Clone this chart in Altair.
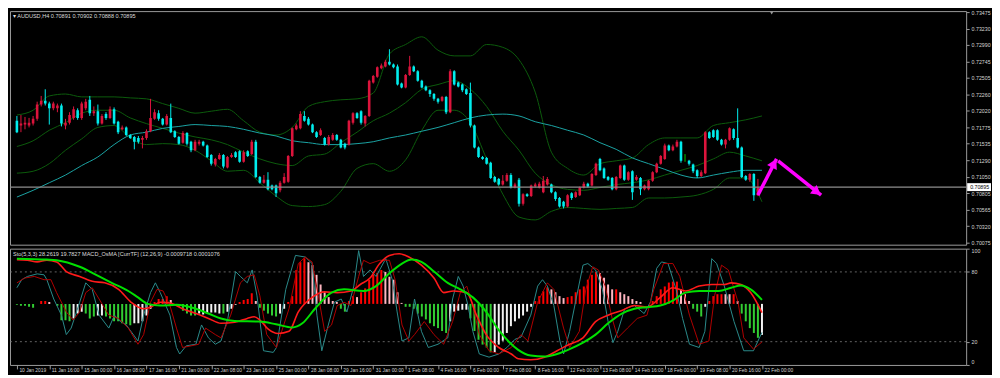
import json
import altair as alt
import pandas as pd

# ---------------- candle data (price points x 1e-5) ----------------
open_pts = [71873,71803,71817,71803,71831,71901,72112,72168,72126,72056,
72056,72098,71803,71845,71915,72028,71915,72056,72182,71985,
72014,71831,71971,71915,72042,71859,71747,71775,71663,71635,
71620,71592,71620,71719,71901,71985,71901,71817,71915,71719,
71635,71550,71691,71564,71438,71536,71564,71508,71368,71227,
71311,71368,71185,71340,71410,71424,71269,71424,71382,71564,
71044,70960,71002,70918,70918,70848,70960,70974,71354,71747,
71761,71944,71901,71817,71705,71663,71620,71522,71592,71663,
71592,71536,71522,71845,71985,72014,71831,71944,72435,72520,
72646,72674,72744,72702,72674,72421,72365,72548,72674,72604,
72463,72379,72323,72267,72196,72168,72225,71999,72604,72435,
72407,72337,72281,71803,71480,71340,71326,71255,71044,71016,
70932,70988,71073,70890,71002,70651,70791,70763,70904,70890,
70819,70932,70932,70819,70735,70679,70609,70805,70749,70777,
70890,70946,70918,71073,71311,71171,71044,71030,70862,71030,
71213,71002,71129,71002,71030,70862,70862,70988,71115,71241,
71311,71508,71438,71494,71564,71297,71283,71227,71143,71059,
71101,71705,71733,71733,71592,71522,71592,71747,71620,71480,
71059,71002,71087,70777,70891]

high_pts = [71944,71957,71929,71915,71944,72154,72239,72337,72154,72154,
72126,72126,71901,71999,72084,72056,72154,72196,72239,72084,
72112,71971,71999,72084,72070,71873,71803,71789,71677,71649,
71649,71649,71747,72196,72042,72028,71915,71971,72126,71733,
71649,71719,71705,71578,71592,71592,71578,71522,71382,71326,
71396,71382,71354,71396,71424,71438,71438,71438,71592,71592,
71059,71073,71115,70932,70932,70988,71101,71368,71775,71831,
72014,72014,71929,71831,71719,71761,71635,71663,71691,71677,
71606,71550,71887,71999,71999,72028,71957,72477,72548,72674,
72716,72772,72927,72716,72702,72435,72562,72829,72688,72618,
72477,72393,72337,72281,72210,72239,72239,72632,72618,72449,
72421,72351,72435,71817,71494,71354,71340,71269,71059,71030,
71073,71101,71101,70960,71030,70805,70805,70932,70960,70974,
71059,71044,70946,70833,70749,70693,70791,70819,70833,70904,
70974,70960,71101,71255,71326,71185,71059,71044,71059,71227,
71227,71129,71143,71073,71044,70932,71002,71129,71255,71368,
71536,71522,71522,71592,71578,71382,71297,71241,71157,71143,
71719,71719,71747,71747,71606,71606,71775,71761,72056,71494,
71073,71101,71101,71016,70902]

low_pts = [71691,71705,71747,71775,71803,71873,72084,72098,71817,72028,
71999,71789,71747,71817,71887,71887,71887,72028,71944,71944,
71803,71817,71887,71901,71817,71677,71733,71649,71606,71452,
71536,71466,71592,71705,71887,71873,71803,71803,71691,71620,
71522,71536,71508,71410,71424,71508,71494,71326,71213,71199,
71297,71171,71171,71326,71326,71255,71255,71340,71368,71030,
70946,70946,70848,70848,70749,70819,70946,70960,71340,71733,
71747,71859,71803,71691,71620,71649,71508,71508,71578,71578,
71466,71452,71508,71817,71901,71817,71789,71929,72421,72506,
72632,72660,72688,72646,72393,72351,72351,72534,72590,72449,
72351,72309,72225,72168,72126,72154,71971,71985,72393,72365,
72295,72253,71775,71466,71326,71297,71227,71016,70960,70918,
70918,70974,70876,70876,70609,70623,70749,70749,70890,70876,
70805,70918,70805,70693,70595,70581,70595,70707,70735,70763,
70876,70890,70904,71059,71129,71016,70988,70848,70848,71016,
70988,70988,70707,70988,70777,70848,70848,70974,71101,71227,
71297,71424,71424,71480,71255,71269,71213,71101,71030,71044,
71087,71606,71620,71578,71508,71466,71578,71592,71466,71030,
70988,70974,70693,70763,70888]

close_pts = [71705,71831,71845,71845,71901,72112,72168,72126,72056,72126,
72098,71831,71845,71957,72042,71915,72126,72154,71985,72014,
71831,71944,71915,72042,71831,71705,71775,71663,71620,71564,
71564,71620,71719,71915,71999,71901,71817,71944,71705,71635,
71536,71691,71536,71438,71564,71564,71508,71340,71241,71311,
71368,71199,71340,71368,71340,71269,71410,71354,71564,71044,
70960,71002,70862,70862,70805,70960,71044,71354,71761,71803,
71971,71873,71817,71705,71635,71733,71522,71635,71663,71592,
71480,71480,71873,71985,71915,71845,71944,72463,72534,72660,
72688,72744,72702,72660,72407,72365,72548,72674,72604,72463,
72365,72323,72267,72196,72154,72225,71999,72604,72407,72379,
72323,72267,71803,71480,71340,71311,71241,71030,70974,70932,
70988,71073,70890,70932,70651,70791,70763,70918,70932,70946,
70988,71016,70819,70721,70609,70609,70777,70735,70819,70890,
70946,70904,71087,71241,71143,71030,71002,70862,71044,71213,
71002,71115,70819,71044,70862,70918,70988,71115,71241,71354,
71508,71438,71494,71564,71283,71297,71241,71129,71059,71115,
71705,71620,71635,71592,71522,71592,71761,71620,71480,71044,
71002,71087,70777,70891,70895]

# ---------------- Bollinger bands / moving average (every 4 bars) ----------------
band_idx = list(range(0, 185, 4))
bb_upper = [71958,72028,72239,72267,72225,72225,72225,72210,72196,72126,
72056,71985,72014,72042,71873,71705,71663,71775,72084,72154,
72182,72196,72281,72857,72997,73110,72913,72829,72829,72997,
72955,72772,72295,71410,71171,71073,71241,71283,71325,71522,
71620,71620,71620,71803,71845,71887,71944]
bb_middle = [71494,71578,71733,71845,71985,72028,72028,71915,71831,71761,
71691,71635,71592,71522,71410,71311,71241,71213,71354,71382,
71550,71705,71873,71985,72140,72337,72407,72463,72337,72084,
71719,71438,71101,70932,70862,70848,70890,70932,70960,71002,
71073,71143,71213,71311,71410,71354,71283]
bb_lower = [71101,71129,71241,71438,71606,71775,71803,71620,71522,71536,
71522,71438,71283,71129,71143,70960,70763,70623,70609,70637,
70834,71171,71241,71129,71297,71733,72028,72028,71845,71311,
70791,70454,70412,70538,70595,70581,70567,70581,70595,70735,
70735,70749,70777,70862,71030,71030,70679]
ma_line = [70749,70848,70960,71073,71213,71340,71522,71663,71705,71761,
71789,71817,71803,71789,71747,71691,71649,71578,71550,71522,
71522,71536,71564,71620,71663,71719,71775,71845,71915,71957,
71971,71944,71859,71803,71733,71663,71550,71452,71325,71241,
71157,71073,71030,71073,71115,71143,71143]

# ---------------- OsMA histogram (x 1e-5) and colour class ----------------
osma = [-1,-2,-2,-3,-4,0,3,3,2,0,
-2,-17,-17,-18,-15,-10,-8,-10,-15,-13,
-12,-12,-13,-15,-18,-18,-20,-21,-22,-20,
-20,-18,-12,-5,2,5,5,8,4,0,
-3,-7,-10,-12,-12,-10,-11,-10,-9,-9,
-10,-10,-8,-5,-1,2,4,5,11,3,
-4,-7,-10,-12,-13,-10,-5,2,8,35,
43,47,43,40,30,20,12,7,3,2,
-5,-8,3,8,7,12,16,25,30,32,
35,33,28,25,12,1,-3,-3,-5,-10,
-13,-16,-20,-23,-25,-28,-30,-18,-8,-7,
-6,-6,-15,-28,-37,-42,-45,-50,-50,-42,
-38,-30,-23,-18,-15,-12,-8,-3,3,8,
13,17,15,12,8,6,7,8,12,15,
18,25,30,33,32,27,20,15,15,12,
10,8,5,3,2,0,0,3,8,15,
18,22,23,23,15,10,3,-5,-8,-13,
-3,3,8,10,10,10,10,10,3,-10,
-18,-25,-30,-35,-32]
hcol = ['g','g','g','g','g','w','r','r','p','w',
'g','g','g','g','w','w','w','g','g','g',
'w','w','g','g','g','g','g','g','g','w',
'w','w','w','w','r','r','r','r','p','w',
'g','g','g','g','g','w','w','w','w','w',
'w','g','w','w','w','r','r','r','r','p',
'g','g','g','g','g','w','w','r','r','r',
'r','r','p','p','p','p','p','p','p','p',
'g','g','r','r','p','r','r','r','r','r',
'r','p','p','p','p','p','g','g','g','g',
'g','g','g','g','g','g','g','w','w','w',
'w','w','g','g','g','g','g','g','w','w',
'w','w','w','w','w','w','w','w','r','r',
'r','r','p','p','p','p','r','r','r','r',
'r','r','r','r','p','p','p','p','r','p',
'p','p','p','p','p','g','g','r','r','r',
'r','r','r','r','p','p','p','g','g','g',
'w','r','r','r','r','p','p','r','p','g',
'g','g','g','g','w']

# ---------------- oscillator lines (bar index, 0-100 panel value) ----------------
macd_idx = [0,2.6,5,7.4,9.8,12.2,15.5,18.6,21.7,25.1,28.2,31.3,33,35.4,37.8,40.9,44.2,47.3,50.4,53.8,
56.9,58.6,60,62,64.5,67.2,69.5,72.9,76,79.1,82.5,84.8,87.2,89.6,92,94.4,96.8,99.9,103,105.4,
107.8,111.1,113.5,115.9,119,122.1,123.8,126.9,130.3,133.4,136.5,139.8,142.9,146,149.4,152.5,155.6,158.9,162,165.1,
168.5,171.6,174.7,176.4,178.8,181.2,184]
macd_val = [90.6,90,88.6,90,88.6,80.3,76.1,71.9,70.6,65,53.9,48.3,49.7,53.9,53.3,48.3,44.2,40,35.8,36.7,
40,41.4,38.6,31,27,28.9,45.6,58.1,62.8,62.2,63.6,69.2,74.7,87.2,94.2,95.6,92.8,85.8,74.7,62.2,
63.6,62.2,42.8,26.1,15,9.4,5.3,4.4,6.7,12.2,17.8,23.3,37.3,42.8,46.9,51.1,49.7,58.1,66.4,63.6,
67.8,69.2,69.2,70.6,69.2,62.2,45]
sig_idx = [0,7.4,9.8,15.5,20.3,23.4,27.5,29.9,32.3,35.4,39.4,44.2,47.3,50.4,53.8,60,64,68,70.5,73.6,
77.7,80.8,85.6,88.7,92,95.1,97.5,99.9,103,106.4,109.5,112.6,115.9,119,121.5,123.8,126.9,130.3,133.4,136.5,
139.8,142.9,146,149.4,152.5,155.6,158.9,162,165.1,168.5,173.3,176.4,178.8,181.2,184]
sig_val = [91.4,90.6,90,84.4,76.1,70.6,63.6,58.1,52.5,51.1,51.7,48.3,44.2,40,37.8,37.3,35,32.2,35.8,48.3,
62.2,65,63.6,67.8,78.9,87.2,90.6,88.6,80.3,70.6,65,58.1,45.6,30,20,13,8.1,7.2,9.4,13.6,
19.2,26.1,35.8,44.2,48.3,49.7,51.1,55.3,62.2,63.6,63.6,66.4,68.3,65,56]
stk_idx = [0,1.2,2.6,5,6.7,7.4,9.1,11,12.2,13.4,15.5,17,18.6,20.3,22.7,24.1,25.1,27,29.9,31.3,
33,34.2,35.4,37.8,39.4,40.2,41.8,44.2,45.6,47.3,49,50.4,52.1,54,55.2,56.9,58.1,59.3,60.9,63.3,
64.1,66.4,68.8,71.2,72.9,74.1,75.3,76.7,78.4,80.1,81.5,83.2,84.4,85.6,87.2,88.7,91.1,92.7,93.9,95.1,
96.8,98.2,99.9,101.6,104,106.4,107.6,109,110.2,111.4,112.6,114.2,116.6,119,121,123,124.5,126.9,128.6,129.8,
131,132.6,134.1,135,136.5,138.1,139.8,141,142.9,144.6,146,147.2,148.4,150.1,152.5,154.9,156.5,158,159.2,160.8,
162.8,164.4,166.1,168.5,169.9,171.6,172.8,174.7,177.1,179.5,181.9,184]
stk_val = [66.4,73.3,76.1,78.3,77.5,73.3,56.7,42.8,26.1,31.7,53.9,70.6,65,42.8,31.7,42.8,38.6,34.4,20.6,42.8,
62.2,70.6,62.2,42.8,15,9.4,16.4,17.8,34.4,23.3,17.8,20.6,40,80.3,76.1,70.6,81.7,59.4,12.2,10.8,
15,65,94.2,92.8,87.2,42.8,12.2,31.7,53.9,56.7,45.6,67.8,98.3,76.1,81.7,76.1,91.4,73.3,45.6,20.6,
23.3,56.7,28.9,15,17.8,23.3,56.7,76.1,67.8,51.1,28.9,9.4,6.7,9.4,15,22,24,42.8,67.8,73.3,
67.8,51.1,20.6,9.4,28.9,56.7,85.8,87.2,81.7,65,37.3,19.2,28.9,48.3,51.1,44.2,54.4,83.1,88.6,87.2,
65,40,17.8,15,28.9,91.4,87.2,67.8,37.3,12.2,12.2,28]
ssig_idx = [0,1.9,4.3,6.7,8.4,9.8,12.2,13.9,15.5,17,18.6,20.3,22.7,25.1,27.5,29.9,31.3,33,34.6,36.1,
37.8,39.4,40.9,43,44.9,46.6,49,50.4,52.8,55.2,56.9,58.6,60,61.7,64.1,67.2,69.5,71.2,72.9,74.3,
76,77.7,79.1,80.8,82.5,84.4,85.6,87.2,89.6,92,93.4,95.1,96.8,98.2,100.6,103,105.4,107.6,109.5,111.1,
112.6,114.2,116.6,119,122.1,124.5,126.2,128.6,131,132.6,135,136.5,138.9,140.5,142.2,143.6,145.3,147,148.4,150.8,
153.2,155.6,157.3,159.7,162,163.7,166.1,168.5,170.9,172.3,174,175.7,178.1,179.5,181.9,184]
ssig_val = [70.6,74.7,76.1,73.3,73.3,62.2,45.6,38.6,45.6,62.2,66.4,56.7,42.8,40,31.7,17.8,26.1,53.9,65,63.6,
51.1,31.7,15,16.4,17.8,31.7,26.1,23.3,42.8,70.6,76.1,77.5,59.4,26.1,15,48.3,87.2,92.8,88.6,62.2,
28.9,34.4,51.1,53.9,51.1,76.1,90,87.2,90,90,73.3,34.4,20.6,26.1,37.3,26.1,17.8,37.3,62.2,67.8,
51.1,26.1,12.2,9.4,15,26.1,20.6,53.9,70.6,65,31.7,15,28.9,65,84.4,81.7,67.8,40,23.3,31.7,
40,42.8,65,87.2,87.2,76.1,42.8,17.8,20.6,59.4,85.8,81.7,53.9,23.3,13.6,19.8]

# ---------------- annotations ----------------
arrow_id = ['up', 'up', 'down', 'down']
arrow_i = [183.0, 187.6, 188.0, 198.6]
arrow_p = [0.70777, 0.71311, 0.71283, 0.70777]
head_i = [187.0, 197.6]
head_p = [0.71246, 0.70822]
head_angle = [27, 128]
bid_price = 0.70895
price_ticks = [0.73475, 0.73230, 0.72990, 0.72745, 0.72505, 0.72260, 0.72020, 0.71775,
               0.71535, 0.71290, 0.71050, 0.70805, 0.70565, 0.70320, 0.70075]
time_labels = ['10 Jan 2019', '11 Jan 16:00', '15 Jan 00:00', '16 Jan 08:00', '17 Jan 16:00',
               '21 Jan 00:00', '22 Jan 08:00', '23 Jan 16:00', '25 Jan 00:00', '28 Jan 08:00',
               '29 Jan 16:00', '31 Jan 00:00', '1 Feb 08:00', '4 Feb 16:00', '6 Feb 00:00',
               '7 Feb 08:00', '8 Feb 16:00', '12 Feb 00:00', '13 Feb 08:00', '14 Feb 16:00',
               '18 Feb 00:00', '19 Feb 08:00', '20 Feb 16:00', '22 Feb 00:00']
main_title = '\u25be AUDUSD,H4  0.70891 0.70902 0.70888 0.70895'
sub_title = 'Sto(5,3,3) 28.2619 19.7827   MACD_OsMA [CurrTF] (12,26,9) -0.0009718 0.0001076'

# ---------------- build tables ----------------
n = min(len(open_pts), len(high_pts), len(low_pts), len(close_pts))
candles = pd.DataFrame({
    'i': list(range(n)),
    'o': [v / 1e5 for v in open_pts[:n]],
    'h': [v / 1e5 for v in high_pts[:n]],
    'l': [v / 1e5 for v in low_pts[:n]],
    'c': [v / 1e5 for v in close_pts[:n]],
})
candles['dir'] = ['up' if c > o else ('down' if c < o else 'flat') for o, c in zip(candles.o, candles.c)]

bands = pd.DataFrame({'i': band_idx, 'upper': [v / 1e5 for v in bb_upper],
                      'middle': [v / 1e5 for v in bb_middle], 'lower': [v / 1e5 for v in bb_lower]})
bands_long = bands.melt('i', var_name='s', value_name='p')
ma_df = pd.DataFrame({'i': band_idx, 'p': [v / 1e5 for v in ma_line]})

m = min(len(osma), len(hcol))
hist = pd.DataFrame({'i': list(range(m)), 'osma': [v * 1e-5 for v in osma[:m]], 'col': hcol[:m]})

macd_df = pd.DataFrame({'i': macd_idx, 'v': macd_val})
sig_df = pd.DataFrame({'i': sig_idx, 'v': sig_val})
stk_df = pd.DataFrame({'i': stk_idx, 'v': stk_val})
ssig_df = pd.DataFrame({'i': ssig_idx, 'v': ssig_val})
arrows = pd.DataFrame({'a': arrow_id, 'i': arrow_i, 'p': arrow_p, 'k': [0, 1, 0, 1]})
heads = pd.DataFrame({'i': head_i, 'p': head_p, 'ang': head_angle})
bid = pd.DataFrame({'p': [bid_price], 'lab': ['%.5f' % bid_price]})
levels = pd.DataFrame({'v': [20, 80]})
titles_main = pd.DataFrame({'t': [main_title]})
titles_sub = pd.DataFrame({'t': [sub_title]})
shift = pd.DataFrame({'i': [186.4]})

# ---------------- layout ----------------
W, HM, HS = 962, 235, 117
XD = [-0.48, 233.2]
YD = [0.70047, 0.73489]
FONT = 'Liberation Sans'
FS = 5.3

xs = alt.Scale(domain=XD, nice=False, zero=False)
x_main = alt.X('i:Q', scale=xs, axis=None)
ys = alt.Scale(domain=YD, nice=False, zero=False)
y_axis = alt.Axis(orient='right', values=price_ticks, format='.5f', tickSize=3, labelPadding=2,
                  grid=False, domain=False, title=None, labelOverlap=False)


def Yp(field):
    return alt.Y(field, scale=ys, axis=y_axis)


cdl_color = alt.Color('dir:N', scale=alt.Scale(domain=['up', 'down', 'flat'],
                                               range=['#dc143c', '#00eded', '#00c800']), legend=None)

bb = alt.Chart(bands_long).mark_line(color='#0c5c0c', strokeWidth=1, clip=True, interpolate='monotone').encode(
    x=x_main, y=Yp('p:Q'), detail='s:N')
ma = alt.Chart(ma_df).mark_line(color='#1ba3a3', strokeWidth=1, clip=True, interpolate='monotone').encode(
    x=x_main, y=Yp('p:Q'))
wicks = alt.Chart(candles).mark_rule(strokeWidth=1, clip=True).encode(
    x=x_main, y=Yp('l:Q'), y2='h:Q', color=cdl_color)
bodies = alt.Chart(candles).mark_bar(size=2.6, clip=True).encode(
    x=x_main, y=Yp('o:Q'), y2='c:Q', color=cdl_color)
bidline = alt.Chart(bid).mark_rule(color='#8e8e8e', strokeWidth=1.3).encode(y=Yp('p:Q'))
arrow_lines = alt.Chart(arrows).mark_line(color='#ff00ff', strokeWidth=3.5, clip=True).encode(
    x=x_main, y=Yp('p:Q'), detail='a:N', order='k:Q')
arrow_heads = alt.Chart(heads).mark_point(shape='triangle-up', filled=True, size=120, color='#ff00ff',
                                          opacity=1, clip=True).encode(
    x=x_main, y=Yp('p:Q'), angle=alt.Angle('ang:Q', scale=None))
box_shape = 'M-1.2,-0.4L1.2,-0.4L1.2,0.4L-1.2,0.4Z'
price_box = alt.Chart(bid).mark_point(shape=box_shape, size=400, filled=True, color='white', opacity=1).encode(
    x=alt.value(W + 13), y=Yp('p:Q'))
price_txt = alt.Chart(bid).mark_text(align='left', baseline='middle', fontSize=FS, font=FONT, color='black').encode(
    x=alt.value(W + 4), y=Yp('p:Q'), text='lab:N')
mtitle = alt.Chart(titles_main).mark_text(align='left', baseline='middle', fontSize=5.6, font=FONT,
                                          color='#dcdcdc').encode(x=alt.value(3), y=alt.value(5), text='t:N')
shift_mark = alt.Chart(shift).mark_point(shape='triangle-down', filled=True, size=12, color='#9a9a9a',
                                         opacity=1).encode(x=x_main, y=alt.value(2))

main = alt.layer(bb, ma, wicks, bodies, bidline, arrow_lines, arrow_heads, price_box, price_txt,
                 mtitle, shift_mark).properties(width=W, height=HM)

# ---------------- sub panel ----------------
label_expr = json.dumps(time_labels) + '[round(datum.value / 8)]'
x_axis = alt.Axis(values=list(range(0, 185, 8)), labelExpr=label_expr, tickSize=4, labelFontSize=4.9,
                  labelAlign='left', labelPadding=-1, labelBaseline='top', labelOffset=2,
                  grid=False, domain=False, title=None, labelOverlap=False,
                  labelBound=False, labelFlush=False)
x_sub = alt.X('i:Q', scale=xs, axis=x_axis)
vs = alt.Scale(domain=[0, 100], nice=False, zero=False)
hs = alt.Scale(domain=[-0.00063, 0.00057], nice=False, zero=False)

lev = alt.Chart(levels).mark_rule(color='#7c7c7c', strokeDash=[2, 3], strokeWidth=0.8).encode(
    y=alt.Y('v:Q', scale=vs, axis=alt.Axis(orient='right', values=[0, 20, 80, 100], tickSize=3, labelPadding=2,
                                           labelFlush=True, grid=False, domain=False, title=None,
                                           labelOverlap=False)))
hbars = alt.Chart(hist).mark_bar(size=2, clip=True).encode(
    x=x_sub, y=alt.Y('osma:Q', scale=hs, axis=None, stack=None), y2=alt.Y2Datum(0),
    color=alt.Color('col:N', scale=alt.Scale(domain=['r', 'p', 'w', 'g'],
                                             range=['#ff0000', '#ffb6c1', '#f2f2f2', '#32cd32']), legend=None))
stk = alt.Chart(stk_df).mark_line(color='#2a8a8a', strokeWidth=1, clip=True).encode(
    x=x_sub, y=alt.Y('v:Q', scale=vs, axis=None))
ssig = alt.Chart(ssig_df).mark_line(color='#b00000', strokeWidth=1, clip=True).encode(
    x=x_sub, y=alt.Y('v:Q', scale=vs, axis=None))
macd = alt.Chart(macd_df).mark_line(color='#ff1a1a', strokeWidth=1.6, clip=True, interpolate='monotone').encode(
    x=x_sub, y=alt.Y('v:Q', scale=vs, axis=None))
sig = alt.Chart(sig_df).mark_line(color='#00e000', strokeWidth=2, clip=True, interpolate='monotone').encode(
    x=x_sub, y=alt.Y('v:Q', scale=vs, axis=None))
stitle = alt.Chart(titles_sub).mark_text(align='left', baseline='middle', fontSize=5.6, font=FONT,
                                         color='#dcdcdc').encode(x=alt.value(3), y=alt.value(5), text='t:N')

sub = alt.layer(lev, hbars, stk, ssig, macd, sig, stitle).resolve_scale(y='independent').properties(
    width=W, height=HS)

chart = alt.vconcat(main, sub, spacing=1, padding=0, background='black').resolve_scale(
    color='independent').configure_view(
    stroke='#9a9a9a', strokeWidth=1, fill='black').configure_axis(
    labelColor='#d4d4d4', labelFont=FONT, labelFontSize=FS, tickColor='#9a9a9a', domainColor='#9a9a9a',
    labelOverlap=False)

chart.save('out.html', embed_options={'renderer': 'svg', 'actions': False})
